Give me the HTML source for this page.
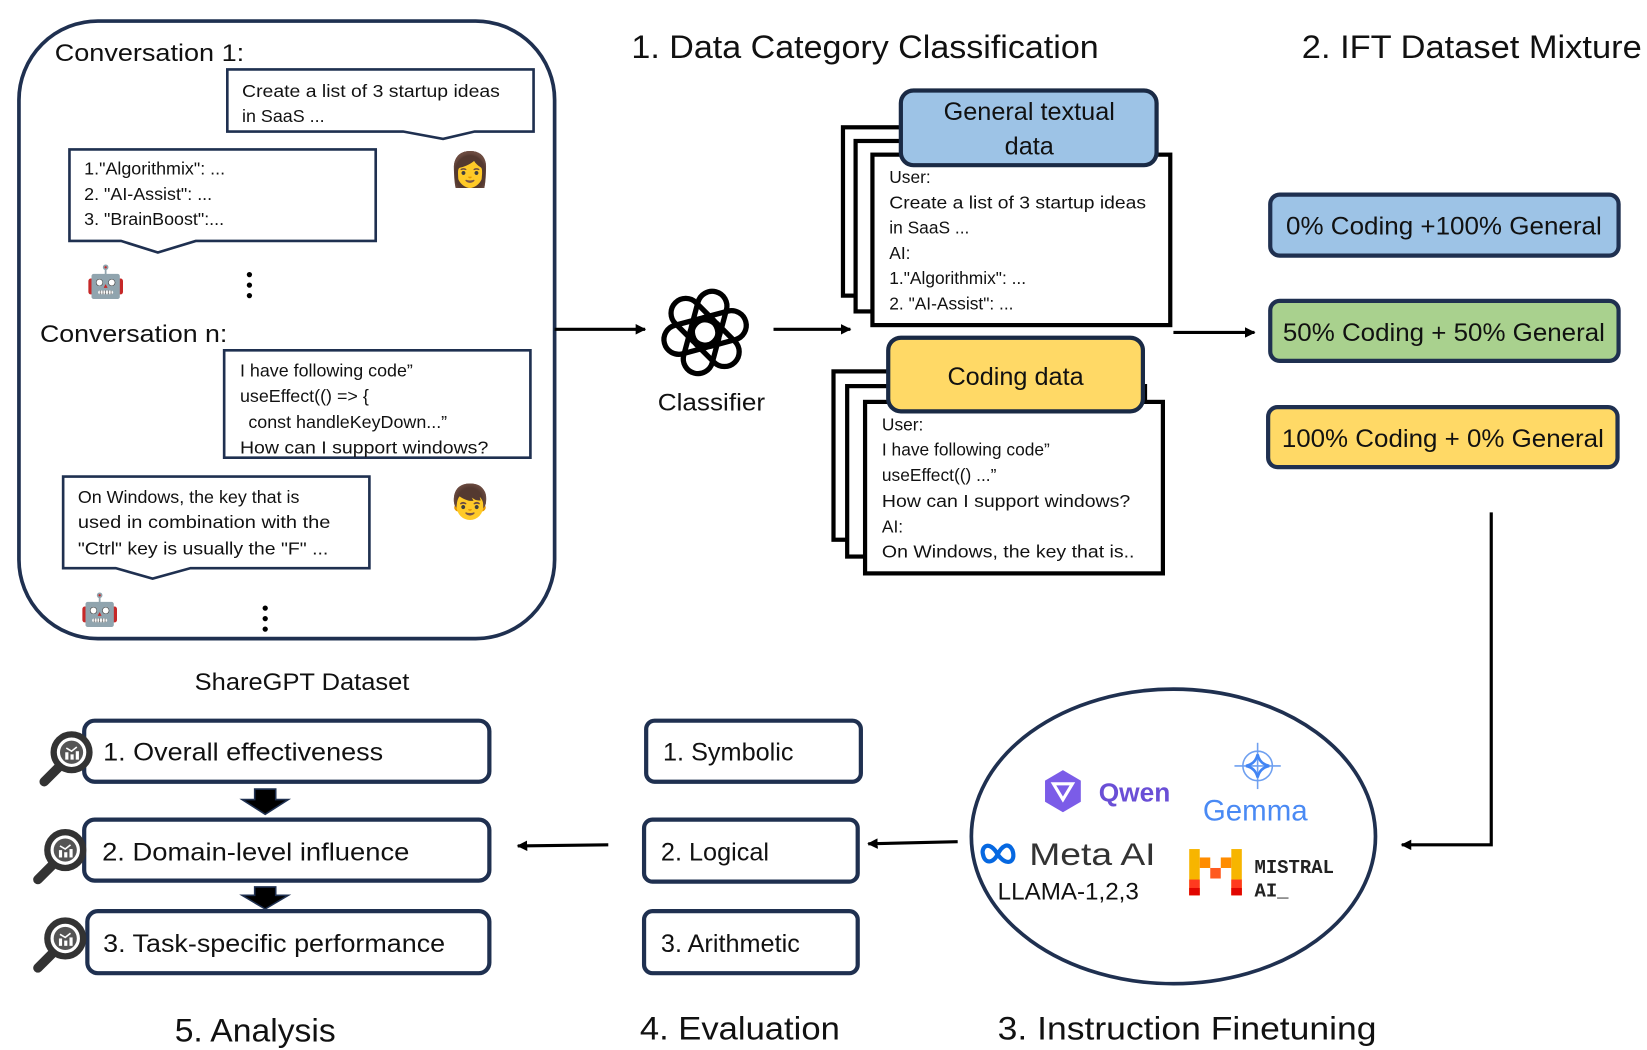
<!DOCTYPE html>
<html><head><meta charset="utf-8"><style>
html,body{margin:0;padding:0;background:#fff;width:1647px;height:1050px;overflow:hidden}
svg{display:block}
text{font-family:"Liberation Sans",sans-serif;fill:#111}
</style></head><body>
<svg width="1647" height="1050" viewBox="0 0 1565 998" preserveAspectRatio="none" xmlns="http://www.w3.org/2000/svg">
<defs>
<marker id="ah" markerWidth="10" markerHeight="10" refX="9" refY="5" orient="auto" markerUnits="userSpaceOnUse"><path d="M0,0 L10,5 L0,10 z" fill="#000"/></marker>
<g id="mag">
<line x1="-8" y1="10" x2="-26" y2="28" stroke="#333" stroke-width="9" stroke-linecap="round"/>
<circle cx="0" cy="0" r="17" fill="#fff" stroke="#333" stroke-width="6"/>
<circle cx="0" cy="0" r="11" fill="#555"/>
<rect x="-6" y="0" width="3" height="7" fill="#fff"/><rect x="-1" y="2" width="3" height="5" fill="#fff"/><rect x="4" y="-1" width="3" height="8" fill="#fff"/>
<polyline points="-5,-4 0,-1 5,-5" stroke="#fff" stroke-width="1.5" fill="none"/>
</g>
</defs>

<rect x="18" y="20" width="509" height="587" rx="75" fill="none" stroke="#1f3050" stroke-width="3.5"/>
<text x="52" y="58" font-size="23" textLength="180" lengthAdjust="spacingAndGlyphs">Conversation 1:</text>
<path d="M216,66 H507 V125 H451 L421,132 L383,125 H216 Z" fill="#fff" stroke="#1f3050" stroke-width="2.5"/>
<text x="230" y="92" font-size="17" textLength="245" lengthAdjust="spacingAndGlyphs">Create a list of 3 startup ideas</text>
<text x="230" y="116" font-size="17">in SaaS ...</text>
<text x="427" y="172" font-size="32">👩</text>
<path d="M66,142 H357 V229 H186 L150,240 L115,229 H66 Z" fill="#fff" stroke="#1f3050" stroke-width="2.5"/>
<text x="80" y="166" font-size="17">1."Algorithmix": ...</text>
<text x="80" y="190" font-size="17">2. "AI-Assist": ...</text>
<text x="80" y="214" font-size="17">3. "BrainBoost":...</text>
<text x="82" y="278" font-size="30">🤖</text>
<circle cx="237" cy="261" r="2.5" fill="#000"/><circle cx="237" cy="271" r="2.5" fill="#000"/><circle cx="237" cy="281" r="2.5" fill="#000"/>
<text x="38" y="325" font-size="23" textLength="178" lengthAdjust="spacingAndGlyphs">Conversation n:</text>
<path d="M213,333 H504 V435 H213 Z" fill="#fff" stroke="#1f3050" stroke-width="2.5"/>
<text x="228" y="358" font-size="17">I have following code”</text>
<text x="228" y="382" font-size="17">useEffect(() =&gt; {</text>
<text x="236" y="407" font-size="17">const handleKeyDown...”</text>
<text x="228" y="431" font-size="17" textLength="236" lengthAdjust="spacingAndGlyphs">How can I support windows?</text>
<text x="427" y="488" font-size="32">👦</text>
<path d="M60,453 H351 V540 H181 L145,550 L110,540 H60 Z" fill="#fff" stroke="#1f3050" stroke-width="2.5"/>
<text x="74" y="478" font-size="17">On Windows, the key that is</text>
<text x="74" y="502" font-size="17" textLength="240" lengthAdjust="spacingAndGlyphs">used in combination with the</text>
<text x="74" y="527" font-size="17" textLength="238" lengthAdjust="spacingAndGlyphs">"Ctrl" key is usually the "F" ...</text>
<text x="76" y="590" font-size="30">🤖</text>
<circle cx="252" cy="578" r="2.5" fill="#000"/><circle cx="252" cy="588" r="2.5" fill="#000"/><circle cx="252" cy="598" r="2.5" fill="#000"/>
<text x="287" y="656" font-size="23" text-anchor="middle" textLength="204" lengthAdjust="spacingAndGlyphs">ShareGPT Dataset</text>

<line x1="527" y1="313" x2="613" y2="313" stroke="#000" stroke-width="3" marker-end="url(#ah)"/>
<g transform="translate(670,316) rotate(15)" fill="none" stroke="#000" stroke-width="5">
<rect x="-14" y="-40" width="28" height="52" rx="14" transform="rotate(0)"/>
<rect x="-14" y="-40" width="28" height="52" rx="14" transform="rotate(60)"/>
<rect x="-14" y="-40" width="28" height="52" rx="14" transform="rotate(120)"/>
<rect x="-14" y="-40" width="28" height="52" rx="14" transform="rotate(180)"/>
<rect x="-14" y="-40" width="28" height="52" rx="14" transform="rotate(240)"/>
<rect x="-14" y="-40" width="28" height="52" rx="14" transform="rotate(300)"/>
</g>
<text x="676" y="390" font-size="23" text-anchor="middle" textLength="102" lengthAdjust="spacingAndGlyphs">Classifier</text>
<line x1="735" y1="313" x2="808" y2="313" stroke="#000" stroke-width="3" marker-end="url(#ah)"/>

<text x="600" y="55" font-size="31" textLength="444" lengthAdjust="spacingAndGlyphs">1. Data Category Classification</text>
<text x="1237" y="55" font-size="31" textLength="323" lengthAdjust="spacingAndGlyphs">2. IFT Dataset Mixture</text>

<rect x="801" y="121" width="283" height="160" fill="#fff" stroke="#000" stroke-width="4"/>
<rect x="813" y="134" width="283" height="162" fill="#fff" stroke="#000" stroke-width="4"/>
<rect x="829" y="147" width="283" height="162" fill="#fff" stroke="#000" stroke-width="4"/>
<rect x="856" y="86" width="243" height="71" rx="12" fill="#9dc3e6" stroke="#1a2a45" stroke-width="4"/>
<text x="978" y="114" font-size="24" text-anchor="middle">General textual</text>
<text x="978" y="147" font-size="24" text-anchor="middle">data</text>
<text x="845" y="174" font-size="16.5">User:</text>
<text x="845" y="198" font-size="16.5" textLength="244" lengthAdjust="spacingAndGlyphs">Create a list of 3 startup ideas</text>
<text x="845" y="222" font-size="16.5">in SaaS ...</text>
<text x="845" y="246" font-size="16.5">AI:</text>
<text x="845" y="270" font-size="16.5">1."Algorithmix": ...</text>
<text x="845" y="294" font-size="16.5">2. "AI-Assist": ...</text>

<rect x="792" y="353" width="283" height="160" fill="#fff" stroke="#000" stroke-width="4"/>
<rect x="805" y="367" width="283" height="162" fill="#fff" stroke="#000" stroke-width="4"/>
<rect x="822" y="382" width="283" height="163" fill="#fff" stroke="#000" stroke-width="4"/>
<rect x="844" y="321" width="242" height="70" rx="12" fill="#ffd966" stroke="#1a2a45" stroke-width="4"/>
<text x="965" y="366" font-size="24" text-anchor="middle">Coding data</text>
<text x="838" y="409" font-size="16.5">User:</text>
<text x="838" y="433" font-size="16.5">I have following code”</text>
<text x="838" y="457" font-size="16.5">useEffect(() ...”</text>
<text x="838" y="482" font-size="16.5" textLength="236" lengthAdjust="spacingAndGlyphs">How can I support windows?</text>
<text x="838" y="506" font-size="16.5">AI:</text>
<text x="838" y="530" font-size="16.5" textLength="240" lengthAdjust="spacingAndGlyphs">On Windows, the key that is..</text>

<line x1="1115" y1="316" x2="1192" y2="316" stroke="#000" stroke-width="3" marker-end="url(#ah)"/>

<rect x="1207" y="185" width="331" height="58" rx="9" fill="#9dc3e6" stroke="#1f3050" stroke-width="4"/>
<text x="1372" y="223" font-size="24" text-anchor="middle" textLength="300" lengthAdjust="spacingAndGlyphs">0% Coding +100% General</text>
<rect x="1207" y="286" width="331" height="57" rx="9" fill="#a9d18e" stroke="#1f3050" stroke-width="4"/>
<text x="1372" y="324" font-size="24" text-anchor="middle" textLength="306" lengthAdjust="spacingAndGlyphs">50% Coding + 50% General</text>
<rect x="1205" y="387" width="332" height="57" rx="9" fill="#ffd966" stroke="#1f3050" stroke-width="4"/>
<text x="1371" y="425" font-size="24" text-anchor="middle" textLength="306" lengthAdjust="spacingAndGlyphs">100% Coding + 0% General</text>

<polyline points="1417,487 1417,803 1332,803" fill="none" stroke="#000" stroke-width="3" marker-end="url(#ah)"/>

<ellipse cx="1115" cy="795" rx="192" ry="140" fill="#fff" stroke="#1f3050" stroke-width="3.5"/>
<g transform="translate(1010,752)">
<polygon points="0,-20 17,-10 17,10 0,20 -17,10 -17,-10" fill="#7b5ce8"/>
<polygon points="0,8 -9,-7 9,-7" fill="none" stroke="#fff" stroke-width="3"/>
</g>
<text x="1044" y="762" font-size="25" style="fill:#6a4fd6;font-weight:bold">Qwen</text>
<g transform="translate(1195,728)" stroke="#6fa0f0" fill="none" stroke-width="1.5">
<circle r="14"/><line x1="-22" y1="0" x2="22" y2="0"/><line x1="0" y1="-22" x2="0" y2="22"/>
<path d="M0,-11 Q2,-2 11,0 Q2,2 0,11 Q-2,2 -11,0 Q-2,-2 0,-11Z" stroke-width="2.5" stroke="#4285f4"/>
</g>
<text x="1143" y="780" font-size="28" style="fill:#4a8af4">Gemma</text>
<path d="M948,812 C940,798 932,805 934,812 C936,822 944,820 948,812 C952,804 958,800 962,808 C966,820 956,824 948,812Z" fill="none" stroke="#0668e1" stroke-width="4"/>
<text x="978" y="822" font-size="30" textLength="120" lengthAdjust="spacingAndGlyphs" style="fill:#333">Meta AI</text>
<text x="948" y="855" font-size="23">LLAMA-1,2,3</text>
<g>
<rect x="1130" y="807" width="10" height="44" fill="#f7b500"/>
<rect x="1170" y="807" width="10" height="44" fill="#f7b500"/>
<rect x="1140" y="815" width="10" height="10" fill="#ff8c00"/>
<rect x="1160" y="815" width="10" height="10" fill="#ff8c00"/>
<rect x="1150" y="825" width="10" height="10" fill="#ff5a1f"/>
<rect x="1130" y="836" width="10" height="15" fill="#ff3a1f"/>
<rect x="1170" y="836" width="10" height="15" fill="#ff3a1f"/>
<rect x="1130" y="844" width="10" height="7" fill="#e10500"/>
<rect x="1170" y="844" width="10" height="7" fill="#e10500"/>
</g>
<text x="1192" y="830" font-size="18" style="font-family:'Liberation Mono',monospace;font-weight:bold;fill:#222">MISTRAL</text>
<text x="1192" y="852" font-size="18" style="font-family:'Liberation Mono',monospace;font-weight:bold;fill:#222">AI_</text>
<text x="948" y="988" font-size="31" textLength="360" lengthAdjust="spacingAndGlyphs">3. Instruction Finetuning</text>

<line x1="910" y1="800" x2="825" y2="802" stroke="#000" stroke-width="3" marker-end="url(#ah)"/>

<rect x="614" y="685" width="204" height="58" rx="8" fill="#fff" stroke="#1f3050" stroke-width="4"/>
<text x="630" y="723" font-size="24">1. Symbolic</text>
<rect x="612" y="779" width="203" height="59" rx="8" fill="#fff" stroke="#1f3050" stroke-width="4"/>
<text x="628" y="818" font-size="24">2. Logical</text>
<rect x="612" y="866" width="203" height="59" rx="8" fill="#fff" stroke="#1f3050" stroke-width="4"/>
<text x="628" y="905" font-size="24">3. Arithmetic</text>
<text x="608" y="988" font-size="31" textLength="190" lengthAdjust="spacingAndGlyphs">4. Evaluation</text>

<line x1="578" y1="803" x2="492" y2="804" stroke="#000" stroke-width="3" marker-end="url(#ah)"/>

<rect x="80" y="685" width="385" height="58" rx="10" fill="#fff" stroke="#1f3050" stroke-width="4"/>
<text x="98" y="723" font-size="24" textLength="266" lengthAdjust="spacingAndGlyphs">1. Overall effectiveness</text>
<rect x="80" y="779" width="385" height="58" rx="10" fill="#fff" stroke="#1f3050" stroke-width="4"/>
<text x="97" y="818" font-size="24" textLength="292" lengthAdjust="spacingAndGlyphs">2. Domain-level influence</text>
<rect x="83" y="866" width="382" height="59" rx="10" fill="#fff" stroke="#1f3050" stroke-width="4"/>
<text x="98" y="905" font-size="24" textLength="325" lengthAdjust="spacingAndGlyphs">3. Task-specific performance</text>
<polygon points="242,750 262,750 262,760 274,760 252,774 230,760 242,760" fill="#000" stroke="#1f3050" stroke-width="1.5"/>
<polygon points="242,843 262,843 262,851 274,851 252,864 230,851 242,851" fill="#000" stroke="#1f3050" stroke-width="1.5"/>
<use href="#mag" x="68" y="715"/>
<use href="#mag" x="62" y="808"/>
<use href="#mag" x="62" y="892"/>
<text x="166" y="990" font-size="31" textLength="153" lengthAdjust="spacingAndGlyphs">5. Analysis</text>
</svg>
</body></html>
